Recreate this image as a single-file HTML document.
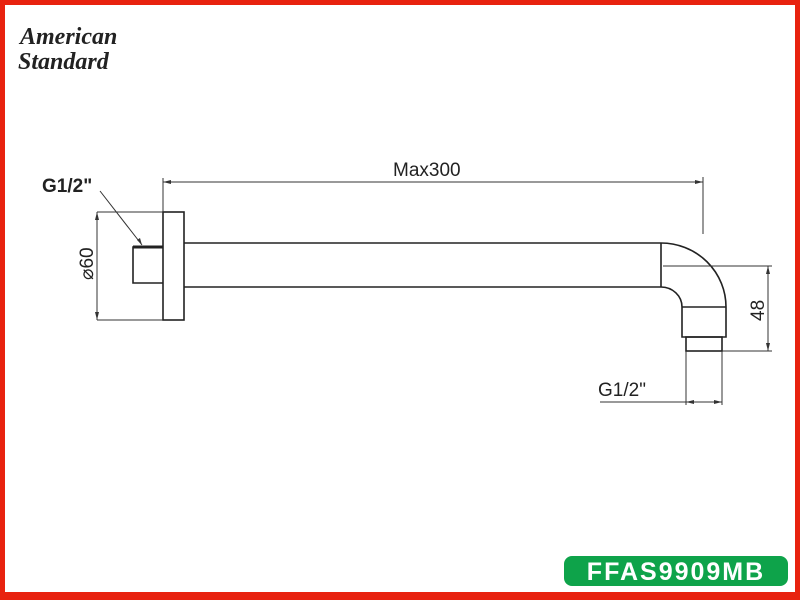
<!DOCTYPE html>
<html><head><style>
body{margin:0;width:800px;height:600px;overflow:hidden;background:#fff}
svg{display:block}
</style></head><body>
<svg width="800" height="600" viewBox="0 0 800 600" xmlns="http://www.w3.org/2000/svg">
<rect x="0" y="0" width="800" height="600" fill="#e8220f"/>
<rect x="5" y="5" width="790" height="587" fill="#fff"/>
<text x="20" y="44" font-family="Liberation Serif,serif" font-style="italic" font-weight="bold" font-size="24" fill="#222">American</text>
<text x="18" y="69" font-family="Liberation Serif,serif" font-style="italic" font-weight="bold" font-size="24" fill="#222">Standard</text>
<g stroke="#222" fill="none" stroke-width="1.6">
<rect x="163" y="212" width="21" height="108"/>
<path d="M163 247 H133 V283 H163"/>
<line x1="133" y1="247" x2="163" y2="247" stroke-width="3"/>
<path d="M184 243 H661 A65 64 0 0 1 726 307 V337 H682 V307 A21 20 0 0 0 661 287 H184"/>
<line x1="661" y1="243" x2="661" y2="287"/>
<line x1="682" y1="307" x2="726" y2="307"/>
<rect x="686" y="337" width="36" height="14"/>
</g>
<g stroke="#333" fill="none" stroke-width="1">
<line x1="163" y1="178" x2="163" y2="212"/>
<line x1="163" y1="182" x2="703" y2="182"/>
<line x1="703" y1="177" x2="703" y2="234"/>
<line x1="97" y1="212" x2="163" y2="212"/>
<line x1="97" y1="320" x2="163" y2="320"/>
<line x1="97" y1="212" x2="97" y2="320"/>
<line x1="100" y1="191" x2="142" y2="245"/>
<line x1="663" y1="266" x2="772" y2="266"/>
<line x1="722" y1="351" x2="772" y2="351"/>
<line x1="768" y1="266" x2="768" y2="351"/>
<line x1="686" y1="351" x2="686" y2="405"/>
<line x1="722" y1="351" x2="722" y2="405"/>
<line x1="600" y1="402" x2="722" y2="402"/>
</g>
<g fill="#333">
<path d="M163 182 l8 -2 v4z"/><path d="M703 182 l-8 -2 v4z"/>
<path d="M97 212 l-2 8 h4z"/><path d="M97 320 l-2 -8 h4z"/>
<path d="M768 266 l-2 8 h4z"/><path d="M768 351 l-2 -8 h4z"/>
<path d="M686 402 l8 -2 v4z"/><path d="M722 402 l-8 -2 v4z"/>
<path d="M142 245 l-5 -5 l3 -2z"/>
</g>
<g font-family="Liberation Sans,Arial,sans-serif" fill="#222" font-size="19">
<text x="393" y="176">Max300</text>
<text x="42" y="192" font-weight="bold">G1/2"</text>
<text x="598" y="396">G1/2"</text>
<text transform="translate(93,280) rotate(-90)">⌀60</text>
<text transform="translate(764,321) rotate(-90)">48</text>
</g>
<rect x="564" y="556" width="224" height="30" rx="8" fill="#0ea34a"/>
<text x="676" y="580" text-anchor="middle" font-family="Liberation Sans,Arial,sans-serif" font-weight="bold" font-size="25" letter-spacing="2" fill="#fff">FFAS9909MB</text>
</svg>
</body></html>
